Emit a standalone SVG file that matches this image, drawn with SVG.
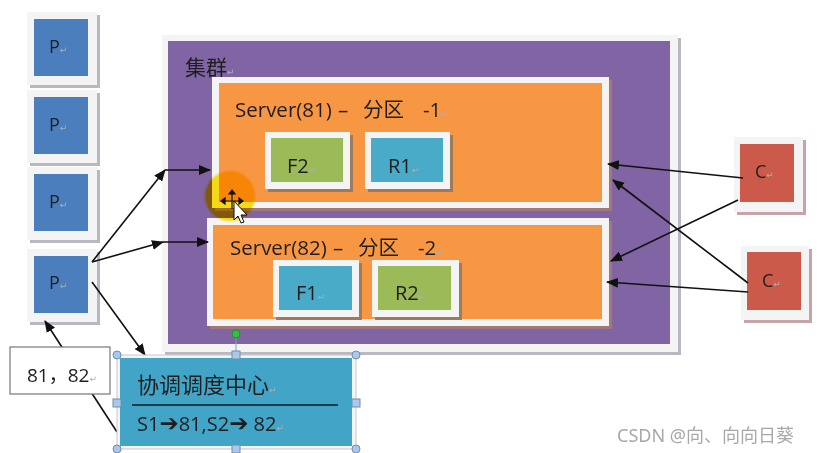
<svg xmlns="http://www.w3.org/2000/svg" width="823" height="453" viewBox="0 0 823 453">
<defs>
  <style>
    .frame{fill:#f4f4f4}
    .shadow{fill:#b9b7c2}
    .lbl{font-family:"Open Sans","Noto Sans","Noto Sans CJK SC",sans-serif;fill:#1e1e1e}
    .cjk{font-family:"Noto Sans CJK SC","Noto Sans",sans-serif;fill:#1e1e1e}
    .pm{font-family:"DejaVu Sans",sans-serif;fill:#b0b0b0;font-size:9px}
    .conn{stroke:#111;stroke-width:1.6;fill:none}
    .handle{fill:#a9c8ea;stroke:#6f8fb4;stroke-width:1}
    .harr{font-family:"DejaVu Sans",sans-serif;font-weight:bold;font-size:23px}
  </style>
  <marker id="ah" viewBox="0 0 12 10" refX="11" refY="5" markerWidth="12" markerHeight="10" markerUnits="userSpaceOnUse" orient="auto">
    <path d="M0,0 L12,5 L0,10 z" fill="#111"/>
  </marker>
  <radialGradient id="glow" cx="0.5" cy="0.5" r="0.5">
    <stop offset="0" stop-color="#ffe000"/>
    <stop offset="0.88" stop-color="#ffe000"/>
    <stop offset="1" stop-color="#fff080" stop-opacity="0"/>
  </radialGradient>
</defs>
<rect width="823" height="453" fill="#ffffff"/>

<!-- Producers -->
<g id="p1">
  <rect class="shadow" x="30" y="15" width="70" height="73"/>
  <rect class="frame" x="27" y="12" width="70" height="73"/>
  <rect x="34" y="19" width="54" height="57" fill="#4a7ebd"/>
  <text class="lbl" x="49" y="53" font-size="18">P<tspan class="pm">↵</tspan></text>
</g>
<g id="p2">
  <rect class="shadow" x="30" y="93" width="70" height="73"/>
  <rect class="frame" x="27" y="90" width="70" height="73"/>
  <rect x="34" y="97" width="54" height="57" fill="#4a7ebd"/>
  <text class="lbl" x="49" y="131" font-size="18">P<tspan class="pm">↵</tspan></text>
</g>
<g id="p3">
  <rect class="shadow" x="30" y="170" width="70" height="73"/>
  <rect class="frame" x="27" y="167" width="70" height="73"/>
  <rect x="34" y="174" width="54" height="57" fill="#4a7ebd"/>
  <text class="lbl" x="49" y="208" font-size="18">P<tspan class="pm">↵</tspan></text>
</g>
<g id="p4">
  <rect class="shadow" x="30" y="252" width="70" height="73"/>
  <rect class="frame" x="27" y="249" width="70" height="73"/>
  <rect x="34" y="256" width="54" height="57" fill="#4a7ebd"/>
  <text class="lbl" x="49" y="289" font-size="18">P<tspan class="pm">↵</tspan></text>
</g>

<!-- Cluster -->
<g id="cluster">
  <rect class="shadow" x="165" y="38" width="516" height="317"/>
  <rect class="frame" x="162" y="35" width="516" height="317"/>
  <rect x="168" y="41" width="502" height="303" fill="#8064a4"/>
  <text class="cjk" x="185" y="75" font-size="21">集群<tspan class="pm">↵</tspan></text>
</g>

<g id="server81">
  <rect x="215" y="80" width="397" height="131" fill="#a0787a"/>
  <rect class="frame" x="212" y="77" width="397" height="131"/>
  <rect x="219" y="83" width="383" height="119" fill="#f79744"/>
  <text class="lbl" x="235" y="117" font-size="20.5">Server(81)<tspan x="338">–</tspan><tspan class="cjk" x="363">分区</tspan><tspan x="423">-1</tspan><tspan class="pm" x="440">↵</tspan></text>
</g>
<g id="f2">
  <rect x="268" y="135" width="85" height="57" fill="#9c7c5c"/>
  <rect class="frame" x="265" y="132" width="85" height="57"/>
  <rect x="271" y="138" width="72" height="44" fill="#9bbb59"/>
  <text class="lbl" x="287" y="173" font-size="20">F2<tspan class="pm">↵</tspan></text>
</g>
<g id="r1">
  <rect x="368" y="135" width="85" height="57" fill="#9c7c5c"/>
  <rect class="frame" x="365" y="132" width="85" height="57"/>
  <rect x="371" y="138" width="72" height="44" fill="#4aabc9"/>
  <text class="lbl" x="388" y="173" font-size="20">R1<tspan class="pm">↵</tspan></text>
</g>

<g id="server82">
  <rect x="210" y="221" width="402" height="108" fill="#a0787a"/>
  <rect class="frame" x="207" y="218" width="402" height="108"/>
  <rect x="213" y="225" width="389" height="94" fill="#f79744"/>
  <text class="lbl" x="230" y="255" font-size="20.5">Server(82)<tspan x="333">–</tspan><tspan class="cjk" x="358">分区</tspan><tspan x="418">-2</tspan><tspan class="pm" x="435">↵</tspan></text>
</g>
<g id="f1">
  <rect x="276" y="263" width="86" height="57" fill="#9c7c5c"/>
  <rect class="frame" x="273" y="260" width="86" height="57"/>
  <rect x="279" y="266" width="73" height="44" fill="#4aabc9"/>
  <text class="lbl" x="296" y="300" font-size="20">F1<tspan class="pm">↵</tspan></text>
</g>
<g id="r2">
  <rect x="375" y="263" width="87" height="57" fill="#9c7c5c"/>
  <rect class="frame" x="372" y="260" width="87" height="57"/>
  <rect x="378" y="266" width="73" height="44" fill="#9bbb59"/>
  <text class="lbl" x="395" y="300" font-size="20">R2<tspan class="pm">↵</tspan></text>
</g>

<!-- Consumers -->
<g id="c1">
  <rect x="737" y="140" width="69" height="75" fill="#c7a2a6"/>
  <rect class="frame" x="734" y="137" width="69" height="75"/>
  <rect x="740" y="144" width="54" height="58" fill="#cc5a4b"/>
  <text class="lbl" x="755" y="178" font-size="18">C<tspan class="pm">↵</tspan></text>
</g>
<g id="c2">
  <rect x="744" y="249" width="68" height="74" fill="#c7a2a6"/>
  <rect class="frame" x="741" y="246" width="68" height="74"/>
  <rect x="747" y="252" width="54" height="58" fill="#cc5a4b"/>
  <text class="lbl" x="762" y="287" font-size="18">C<tspan class="pm">↵</tspan></text>
</g>

<!-- Connectors -->
<g id="connectors">
  <line class="conn" x1="92" y1="262" x2="165" y2="170" marker-end="url(#ah)"/>
  <line class="conn" x1="165" y1="170" x2="210" y2="170" marker-end="url(#ah)"/>
  <line class="conn" x1="92" y1="262" x2="163" y2="242" marker-end="url(#ah)"/>
  <line class="conn" x1="163" y1="242" x2="208" y2="242" marker-end="url(#ah)"/>
  <line class="conn" x1="92" y1="282" x2="145" y2="355" marker-end="url(#ah)"/>
  <line class="conn" x1="117" y1="432" x2="45" y2="321" marker-end="url(#ah)"/>
  <line class="conn" x1="743" y1="178" x2="608" y2="164" marker-end="url(#ah)"/>
  <line class="conn" x1="738" y1="200" x2="611" y2="261" marker-end="url(#ah)"/>
  <line class="conn" x1="748" y1="283" x2="613" y2="180" marker-end="url(#ah)"/>
  <line class="conn" x1="748" y1="292" x2="607" y2="282" marker-end="url(#ah)"/>
</g>

<!-- Label box on the feedback connector -->
<g id="addr">
  <rect x="10" y="347" width="100" height="47" fill="#ffffff" stroke="#777" stroke-width="1.2"/>
  <text class="lbl" x="27" y="382" font-size="19">81，82<tspan class="pm">↵</tspan></text>
</g>

<!-- Coordination center (selected shape) -->
<g id="coord">
  <line x1="236" y1="334" x2="236" y2="355" stroke="#7f9fc4" stroke-width="1"/>
  <circle cx="236" cy="334" r="4" fill="#2fc23a" stroke="#1b8a22" stroke-width="0.8"/>
  <rect x="117" y="355" width="239" height="94" fill="#f4f4f4" stroke="#c9c9c9" stroke-width="1"/>
  <rect x="120" y="358" width="232" height="88" fill="#42a5c8"/>
  <text class="cjk" x="137" y="393" font-size="22">协调调度中心<tspan class="pm">↵</tspan></text>
  <line x1="132" y1="405" x2="338" y2="405" stroke="#1d3b4a" stroke-width="2"/>
  <text class="lbl" x="137" y="431" font-size="20">S1<tspan class="harr">➔</tspan>81,S2<tspan class="harr">➔</tspan> 82<tspan class="pm">↵</tspan></text>
  <circle class="handle" cx="117" cy="355" r="4"/>
  <circle class="handle" cx="356" cy="355" r="4"/>
  <circle class="handle" cx="117" cy="449" r="4"/>
  <circle class="handle" cx="356" cy="449" r="4"/>
  <rect class="handle" x="232" y="351" width="8" height="8"/>
  <rect class="handle" x="232" y="445" width="8" height="8"/>
  <rect class="handle" x="113" y="399" width="8" height="8"/>
  <rect class="handle" x="352" y="399" width="8" height="8"/>
</g>

<!-- Cursor highlight (screen recording) -->
<circle cx="230" cy="196" r="27" fill="url(#glow)" opacity="0.9" style="mix-blend-mode:multiply"/>
<g stroke="#111" stroke-width="1.2" fill="#111">
  <path d="M224,201 L240,201 M232,193 L232,209" fill="none"/>
  <path d="M221,201 L225,198 L225,204 z"/>
  <path d="M243,201 L239,198 L239,204 z"/>
  <path d="M232,190 L229,194 L235,194 z"/>
</g>
<path d="M234,201 L234,220 L238,216 L241,223 L244,222 L241,215 L247,215 z" fill="#ffffff" stroke="#111" stroke-width="1"/>

<text x="617" y="442" font-family="Noto Sans, Noto Sans CJK SC, sans-serif" font-size="18" fill="#a8a8a8">CSDN @向、向向日葵</text>
</svg>
